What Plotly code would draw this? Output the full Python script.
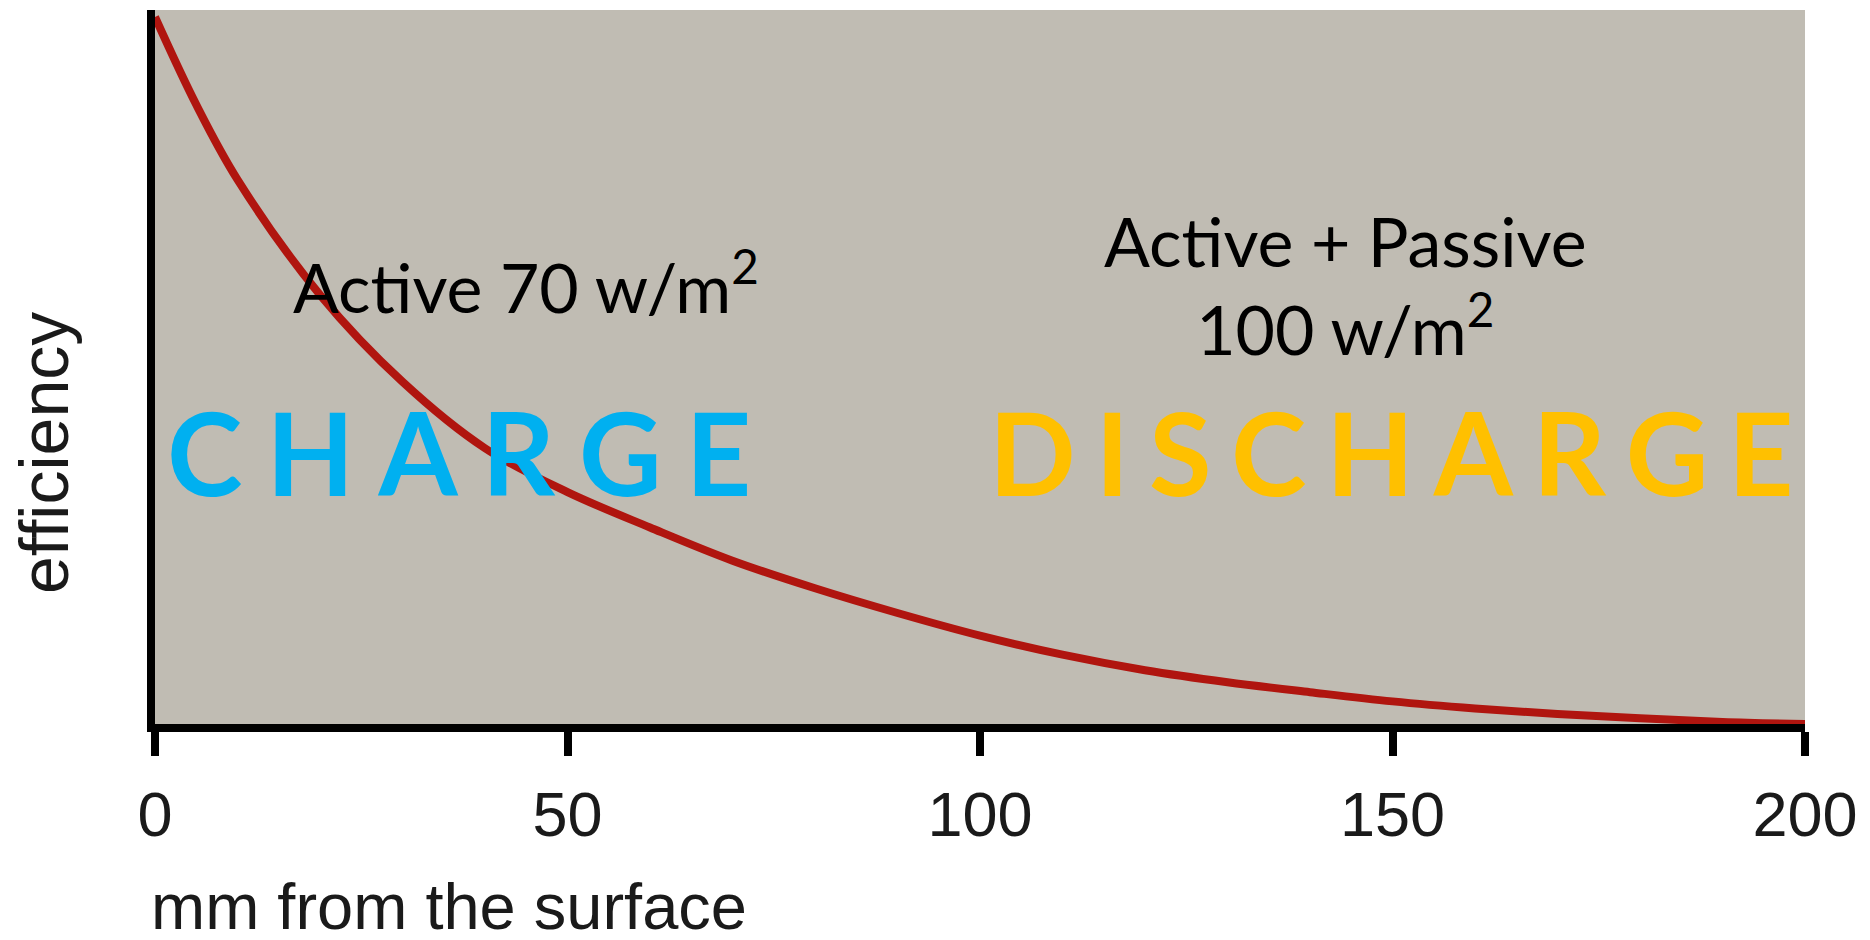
import plotly.graph_objects as go

# depth (mm) and relative efficiency
depth_mm = [0, 5, 10, 20, 30, 40, 50, 60, 70, 80, 90, 100,
            110, 120, 130, 140, 150, 160, 170, 180, 190, 200]
efficiency = [1.0, 0.876, 0.77, 0.607, 0.484, 0.39, 0.328, 0.278, 0.231, 0.192, 0.157, 0.125,
              0.098, 0.076, 0.059, 0.045, 0.032, 0.022, 0.014, 0.008, 0.003, 0.0]
x_ticks = [0, 50, 100, 150, 200]

RED = '#B0150F'
CYAN = '#00B0F0'
AMBER = '#FFC000'
STONE = '#C0BCB3'
INK = '#1a1a1a'

# page has an 8px body margin, so the figure is a bit smaller than the window
W, H = 1854, 924
L, R, T, B = 147, 57, 2, 208


def px(x):
    return (x - L) / (W - L - R)


def py(y):
    return (H - B - y) / (H - T - B)


def spaced(word, gap):
    # wide tracking: a sized non-breaking space between letters
    return f'<span style="font-size:{gap}px">\u00a0</span>'.join(word)


fig = go.Figure(go.Scatter(
    x=depth_mm, y=efficiency,
    mode='lines',
    line=dict(color=RED, width=8, shape='spline', smoothing=1.0),
    hoverinfo='skip',
))

label_font = dict(family='Lato, sans-serif', size=68, color='black')
big_font = dict(family='Lato, sans-serif', size=114, weight='bold')
axis_font = 'Liberation Sans, Arial, sans-serif'

annotations = [
    dict(text='Active 70 w/m<sup>2</sup>', x=px(518), y=py(274),
         xanchor='center', yanchor='middle', font=label_font),
    dict(text='Active + Passive<br>100 w/m<sup>2</sup>', x=px(1337), y=py(276),
         xanchor='center', yanchor='middle', font=label_font),
    dict(text=spaced('CHARGE', 99), x=px(451), y=py(443),
         xanchor='center', yanchor='middle', font=dict(big_font, color=CYAN)),
    dict(text=spaced('DISCHARGE', 81), x=px(1383), y=py(443),
         xanchor='center', yanchor='middle', font=dict(big_font, color=AMBER)),
    dict(text='mm from the surface', x=px(141), y=py(898),
         xanchor='left', yanchor='middle',
         font=dict(family=axis_font, size=65, color=INK)),
    dict(text='efficiency', x=px(36), y=py(445), textangle=-90,
         xanchor='center', yanchor='middle',
         font=dict(family=axis_font, size=68, color=INK)),
]
for a in annotations:
    a.update(xref='paper', yref='paper', showarrow=False)

fig.update_layout(
    width=W, height=H,
    margin=dict(l=L, r=R, t=T, b=B),
    paper_bgcolor='white',
    plot_bgcolor=STONE,
    showlegend=False,
    annotations=annotations,
    xaxis=dict(
        range=[0, 200],
        tickvals=x_ticks,
        ticktext=[str(v) for v in x_ticks],
        ticks='outside', ticklen=24, tickwidth=8, tickcolor='black',
        showline=True, linewidth=8, linecolor='black',
        showgrid=False, zeroline=False,
        tickfont=dict(family=axis_font, size=63, color=INK),
        ticklabelstandoff=4,
    ),
    yaxis=dict(
        range=[0, 1.0099],
        showticklabels=False, ticks='',
        showline=True, linewidth=8, linecolor='black',
        showgrid=False, zeroline=False,
    ),
)

fig.write_html("out.html")
